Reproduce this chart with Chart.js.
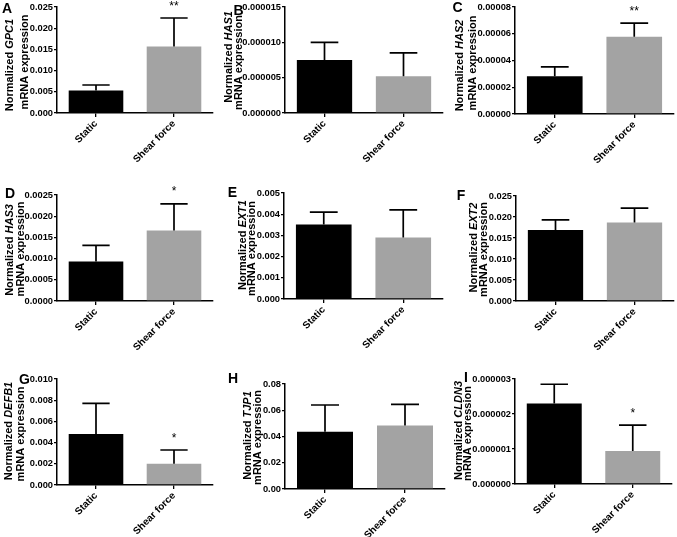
<!DOCTYPE html>
<html>
<head>
<meta charset="utf-8">
<script src="https://cdn.jsdelivr.net/npm/chart.js@4.4.0/dist/chart.umd.min.js"></script>
<style>
  body { margin: 0; background: #fff; }
  #wrap { position: relative; width: 677px; height: 537px; overflow: hidden; }
  #wrap canvas { position: absolute; }
</style>
</head>
<body>
<div id="wrap"></div>
<script>
// DATOS
const categories = ['Static', 'Shear force'];
const genes = ['GPC1', 'HAS1', 'HAS2', 'HAS3', 'EXT1', 'EXT2', 'DEFB1', 'TJP1', 'CLDN3'];
const panelLetters = ['A', 'B', 'C', 'D', 'E', 'F', 'G', 'H', 'I'];
const staticMean = [0.0053, 0.0000075, 0.0000283, 0.00093, 0.00352, 0.0169, 0.0048, 0.0437, 0.0000023];
const staticErr  = [0.0013, 0.0000025, 0.0000070, 0.00038, 0.00058, 0.0024, 0.0029, 0.0203, 0.00000055];
const shearMean  = [0.0157, 0.0000052, 0.0000578, 0.00166, 0.0029, 0.0187, 0.0020, 0.0483, 0.00000094];
const shearErr   = [0.0067, 0.0000033, 0.0000102, 0.00063, 0.0013, 0.0034, 0.0013, 0.0162, 0.00000074];
const stars = ['**', '', '**', '*', '', '', '*', '', '*'];
// ejes Y
const yMax = [0.025, 0.000015, 0.00008, 0.0025, 0.005, 0.025, 0.010, 0.08, 0.000003];
const yStep = [0.005, 0.000005, 0.00002, 0.0005, 0.001, 0.005, 0.002, 0.02, 0.000001];
const yDecimals = [3, 6, 5, 4, 3, 3, 3, 2, 6];

// GEOMETRIA DE LOS PANELES (pixeles absolutos)
// [colLeft, rowTop, colRight, rowBottom, axisX, topY, rightX, zeroY]
const boxes = [
  [0, 0, 214, 175, 57, 7, 213, 113],
  [214, 0, 446, 175, 285, 7, 443, 113],
  [446, 0, 677, 175, 515, 7, 674, 114],
  [0, 175, 214, 355, 57, 195, 213, 301],
  [214, 175, 446, 355, 284, 193, 443, 299],
  [446, 175, 677, 355, 516, 196, 674, 301],
  [0, 355, 214, 537, 57, 379, 213, 485],
  [214, 355, 446, 537, 285, 384, 445, 489],
  [446, 355, 677, 537, 515, 379, 672, 484]
];
const titleX1 = [12.5, 231.5, 463, 13, 245.5, 477, 12, 251, 461.5];
const titleX2 = [28, 242, 476, 24, 255, 487, 24, 261, 471];
// desplazamiento vertical del centro de cada linea respecto al centro del eje
const titleDy1 = [5, -3, 5, 2, -1, -1, -1, -1, -1];
const titleDy2 = [2, 2.5, 2.5, 1, 2.5, 1, 2, 1, 2];
const letterPos = [[7, 9.5], [238.5, 11], [457.5, 8], [10, 194.5], [232.5, 193.5], [461, 196], [24.5, 380], [233, 379], [466, 378]];

const FONT = '"Liberation Sans", Arial, sans-serif';
Chart.defaults.font.family = FONT;
Chart.defaults.color = '#000';

// PLUGIN: barras de error, asteriscos, titulos y letras
const decorPlugin = {
  id: 'decor',
  afterDatasetsDraw(chart, args, opts) {
    const i = opts.idx;
    const ctx = chart.ctx;
    const yScale = chart.scales.y;
    const bars = chart.getDatasetMeta(0).data;
    const means = [staticMean[i], shearMean[i]];
    const errs = [staticErr[i], shearErr[i]];
    ctx.save();
    ctx.strokeStyle = '#000';
    ctx.fillStyle = '#000';
    ctx.lineWidth = 1.7;
    bars.forEach((bar, k) => {
      const yTop = yScale.getPixelForValue(means[k] + errs[k]);
      const half = bar.width / 4;
      ctx.beginPath();
      ctx.moveTo(bar.x, bar.y);
      ctx.lineTo(bar.x, yTop);
      ctx.moveTo(bar.x - half, yTop);
      ctx.lineTo(bar.x + half, yTop);
      ctx.stroke();
      if (k === 1 && stars[i]) {
        ctx.font = '12px ' + FONT;
        ctx.textAlign = 'center';
        ctx.textBaseline = 'alphabetic';
        ctx.fillText(stars[i], bar.x, yTop - 8.5);
      }
    });
    ctx.restore();
  },
  afterDraw(chart, args, opts) {
    const i = opts.idx;
    const b = boxes[i];
    const ctx = chart.ctx;
    const area = chart.chartArea;
    const mid = (area.top + area.bottom) / 2;
    const fReg = 'bold 11px ' + FONT;
    const fIt = 'italic bold 11px ' + FONT;
    ctx.save();
    ctx.fillStyle = '#000';
    ctx.textBaseline = 'alphabetic';
    ctx.textAlign = 'left';
    // linea 1: Normalized + gen en cursiva
    ctx.save();
    ctx.translate(titleX1[i] - b[0], mid + titleDy1[i]);
    ctx.rotate(-Math.PI / 2);
    ctx.font = fReg;
    const w1 = ctx.measureText('Normalized ').width;
    ctx.font = fIt;
    const w2 = ctx.measureText(genes[i]).width;
    const x0 = -(w1 + w2) / 2;
    ctx.font = fReg;
    ctx.fillText('Normalized ', x0, 0);
    ctx.font = fIt;
    ctx.fillText(genes[i], x0 + w1, 0);
    ctx.restore();
    // linea 2
    ctx.save();
    ctx.translate(titleX2[i] - b[0], mid + titleDy2[i]);
    ctx.rotate(-Math.PI / 2);
    ctx.font = fReg;
    ctx.textAlign = 'center';
    ctx.fillText('mRNA expression', 0, 0);
    ctx.restore();
    // letra del panel
    ctx.font = 'bold 14px ' + FONT;
    ctx.textAlign = 'center';
    ctx.textBaseline = 'middle';
    ctx.fillText(panelLetters[i], letterPos[i][0] - b[0], letterPos[i][1] - b[1]);
    ctx.restore();
  }
};

// CREAR LOS 9 GRAFICOS
const wrap = document.getElementById('wrap');
boxes.forEach((b, i) => {
  const [cl, rt, cr, rb, ax, ty, rx, zy] = b;
  const canvas = document.createElement('canvas');
  canvas.width = cr - cl;
  canvas.height = rb - rt;
  canvas.style.left = cl + 'px';
  canvas.style.top = rt + 'px';
  canvas.style.width = (cr - cl) + 'px';
  canvas.style.height = (rb - rt) + 'px';
  wrap.appendChild(canvas);

  new Chart(canvas.getContext('2d'), {
    type: 'bar',
    data: {
      labels: categories,
      datasets: [{
        data: [staticMean[i], shearMean[i]],
        backgroundColor: ['#000000', '#a3a3a3'],
        borderWidth: 0,
        barPercentage: 0.7,
        categoryPercentage: 1
      }]
    },
    plugins: [decorPlugin],
    options: {
      responsive: false,
      animation: false,
      devicePixelRatio: 1,
      layout: { padding: { left: 0, top: ty - rt, right: cr - rx, bottom: 0 } },
      plugins: {
        legend: { display: false },
        tooltip: { enabled: false },
        decor: { idx: i }
      },
      scales: {
        x: {
          offset: true,
          grid: { offset: false, drawOnChartArea: false, drawTicks: true, tickLength: 4, color: '#000', lineWidth: 1.3 },
          border: { display: true, color: '#000', width: 1.5 },
          ticks: { minRotation: 45, maxRotation: 45, padding: 1, font: { size: 10, weight: 'bold' }, color: '#000' },
          afterFit: (s) => { s.height = rb - zy; }
        },
        y: {
          min: 0,
          max: yMax[i],
          grid: { drawOnChartArea: false, drawTicks: true, tickLength: 3, color: '#000', lineWidth: 1.3 },
          border: { display: true, color: '#000', width: 1.5 },
          ticks: {
            stepSize: yStep[i],
            padding: 1,
            font: { size: 9.3, weight: 'bold' },
            color: '#000',
            callback: (v) => Number(v).toFixed(yDecimals[i])
          },
          afterFit: (s) => { s.width = ax - cl; }
        }
      }
    }
  });
});
</script>
</body>
</html>
